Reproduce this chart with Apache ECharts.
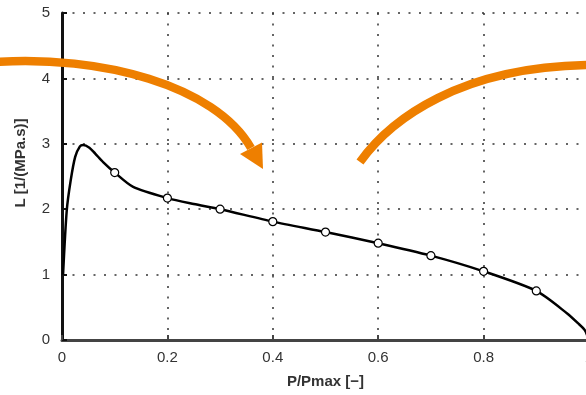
<!DOCTYPE html>
<html>
<head>
<meta charset="utf-8">
<script src="https://cdn.jsdelivr.net/npm/echarts@6/dist/echarts.min.js"></script>
<style>html,body{margin:0;padding:0;background:#fff}#c{width:586px;height:395px}</style>
</head>
<body>
<div id="c"></div>
<script>
var curveP = [0.002, 0.009, 0.0165, 0.025, 0.034, 0.040, 0.052, 0.063, 0.078, 0.1, 0.135, 0.2, 0.25, 0.3, 0.4, 0.5, 0.6, 0.7, 0.8, 0.9, 0.958, 0.980, 0.992, 1.0];
var curveL = [1.0, 1.98, 2.44, 2.80, 2.96, 2.98, 2.94, 2.85, 2.72, 2.56, 2.34, 2.17, 2.08, 2.0, 1.81, 1.65, 1.48, 1.29, 1.05, 0.75, 0.41, 0.25, 0.15, 0.0];
var markerP = [0.1, 0.2, 0.3, 0.4, 0.5, 0.6, 0.7, 0.8, 0.9];
var markerL = [2.56, 2.17, 2.0, 1.81, 1.65, 1.48, 1.29, 1.05, 0.75];
var xTicks = [0, 0.2, 0.4, 0.6, 0.8, 1];
var yTicks = [0, 1, 2, 3, 4, 5];

var curveData = curveP.map(function (p, i) { return [p, curveL[i]]; });
var markerData = markerP.map(function (p, i) { return [p, markerL[i]]; });

var orange = '#EE7F00';
var arcStyle = { stroke: orange, lineWidth: 8.5, fill: null, lineCap: 'butt' };

var chart = echarts.init(document.getElementById('c'), null, { renderer: 'canvas' });
var dotted = { type: [2, 8.5], color: '#333', width: 1.5 };

chart.setOption({
  animation: false,
  backgroundColor: '#fff',
  grid: { left: 62, top: 13, right: -3, bottom: 55, containLabel: false, outerBoundsMode: 'none' },
  xAxis: {
    type: 'value', min: xTicks[0], max: xTicks[xTicks.length - 1], interval: 0.2,
    name: 'P/Pmax [\u2212]', nameLocation: 'middle', nameGap: 34,
    nameTextStyle: { fontFamily: 'Liberation Sans', fontWeight: 'bold', fontSize: 15, color: '#333' },
    axisLine: { show: true, lineStyle: { color: '#444', width: 3 } },
    axisTick: { show: true, inside: true, length: 5, lineStyle: { color: '#444', width: 2 } },
    axisLabel: { fontFamily: 'Liberation Sans', fontSize: 15, color: '#333', margin: 10 },
    splitLine: { show: true, lineStyle: dotted }
  },
  yAxis: {
    type: 'value', min: yTicks[0], max: yTicks[yTicks.length - 1], interval: 1,
    axisLine: { show: true, lineStyle: { color: '#111', width: 3 } },
    axisTick: { show: true, inside: true, length: 5, lineStyle: { color: '#111', width: 2 } },
    axisLabel: { fontFamily: 'Liberation Sans', fontSize: 15, color: '#333', margin: 12 },
    splitLine: { show: true, lineStyle: dotted }
  },
  series: [
    {
      type: 'line', data: curveData, smooth: 0.25, showSymbol: false, symbol: 'none',
      lineStyle: { color: '#000', width: 2.5 }, z: 3
    },
    {
      type: 'scatter', data: markerData, symbol: 'circle', symbolSize: 8,
      itemStyle: { color: '#fff', borderColor: '#000', borderWidth: 1.2, opacity: 1 }, z: 4
    }
  ],
  graphic: [
    {
      type: 'text', x: 21, y: 163, rotation: Math.PI / 2, silent: true,
      style: { text: 'L [1/(MPa.s)]', fontFamily: 'Liberation Sans', fontWeight: 'bold', fontSize: 15, fill: '#333', align: 'center', verticalAlign: 'middle' }
    },
    {
      type: 'bezierCurve', z: 10, silent: true,
      shape: { x1: -5, y1: 62, cpx1: 100, cpy1: 55, cpx2: 215, cpy2: 85, x2: 251, y2: 148 },
      style: arcStyle
    },
    {
      type: 'polygon', z: 10, silent: true,
      shape: { points: [[240, 154], [262, 142.5], [263, 169]] },
      style: { fill: orange }
    },
    {
      type: 'bezierCurve', z: 10, silent: true,
      shape: { x1: 360, y1: 162, cpx1: 390, cpy1: 120, cpx2: 460, cpy2: 66, x2: 592, y2: 65 },
      style: arcStyle
    }
  ]
});
</script>
</body>
</html>
